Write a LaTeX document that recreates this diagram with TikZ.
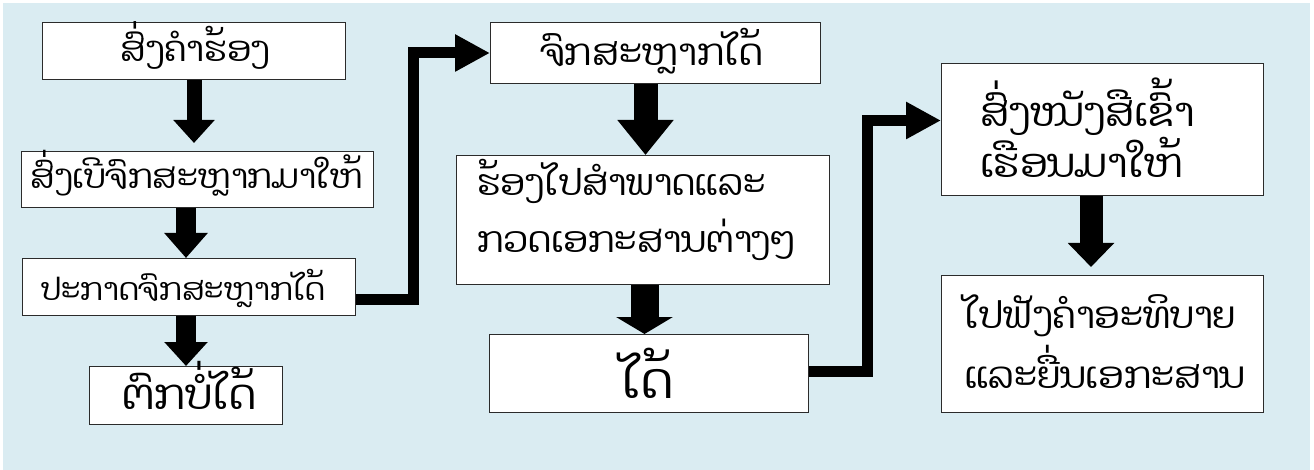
\documentclass[tikz,border=0pt]{standalone}
\usepackage{fontspec}
\usetikzlibrary{arrows.meta}
\newfontfamily\lao[Script=Lao]{Dhyana}
\definecolor{bgc}{HTML}{DAECF2}
\definecolor{edge}{HTML}{2B2B2B}
\begin{document}
\begin{tikzpicture}[x=1pt,y=-1pt,
  box/.style={draw=edge, line width=1pt, fill=white, inner sep=0pt, anchor=north west},
  txt/.style={inner sep=0pt, anchor=base},
  txtl/.style={inner sep=0pt, anchor=base west},
  blk/.style={draw=black, line join=miter},
  conn/.style={draw=black, line width=11pt, line join=miter, -{Triangle[width=35pt,length=35pt]}},
  fs/.style={font=\lao\fontsize{#1}{#1}\selectfont}
]
\useasboundingbox (0,0) rectangle (1314,470);
\fill[bgc] (3,3) rectangle (1310,470);

\node[box, minimum width=303pt, minimum height=57pt] (b1) at (42,22) {};
\node[box, minimum width=352pt, minimum height=56pt] (b2) at (21,151) {};
\node[box, minimum width=333pt, minimum height=57pt] (b3) at (22,258) {};
\node[box, minimum width=193pt, minimum height=58pt] (b4) at (89,366) {};
\node[box, minimum width=330pt, minimum height=61pt] (b5) at (490,22) {};
\node[box, minimum width=373pt, minimum height=129pt] (b6) at (456,155) {};
\node[box, minimum width=319pt, minimum height=78pt] (b7) at (489,334) {};
\node[box, minimum width=322pt, minimum height=132pt] (b8) at (941,63) {};
\node[box, minimum width=322pt, minimum height=137pt] (b9) at (941,275) {};

\node[txt, fs=35] (t1) at (195,62) {ສົ່ງຄຳຮ້ອງ};
\node[txt, fs=33.5] (t2) at (197,189) {ສົ່ງເບີຈົກສະຫຼາກມາໃຫ້};
\node[txt, fs=31] (t3) at (183.5,301) {ປະກາດຈົກສະຫຼາກໄດ້};
\node[txt, fs=42] (t4) at (189.5,409) {ຕົກບໍ່ໄດ້};
\node[txt, fs=37] (t5) at (651.5,66) {ຈົກສະຫຼາກໄດ້};
\node[txtl, fs=36] (t6a) at (477,196) {ຮ້ອງໄປສຳພາດແລະ};
\node[txtl, fs=36] (t6b) at (477,253) {ກວດເອກະສານຕ່າງໆ};
\node[txt, fs=50] (t7) at (647.5,398) {ໄດ້};
\node[txtl, fs=40] (t8a) at (980,127) {ສົ່ງໜັງສືເຂົ້າ};
\node[txtl, fs=40] (t8b) at (980,178) {ເຮືອນມາໃຫ້};
\node[txt, fs=37] (t9a) at (1100,328) {ໄປຟັງຄຳອະທິບາຍ};
\node[txt, fs=37] (t9b) at (1105,388) {ແລະຍື່ນເອກະສານ};

\draw[blk, line width=15pt, -{Triangle[width=40pt,length=23pt]}, shorten >=8pt] (b1.south) -- (b2.north -| b1.south);
\draw[blk, line width=20pt, -{Triangle[width=42pt,length=25pt]}] (b2.south -| b4.north) -- (b3.north -| b4.north);
\draw[blk, line width=20pt, -{Triangle[width=42pt,length=24pt]}] (b3.south -| b4.north) -- (b4.north);
\draw[blk, line width=24pt, -{Triangle[width=54pt,length=35pt]}] ([xshift=2.5pt]b5.south -| b6.north) -- ([xshift=2.5pt]b6.north);
\draw[blk, line width=28pt, -{Triangle[width=56pt,length=17pt]}] ([xshift=1.5pt]b6.south) -- ([xshift=1.5pt]b7.north -| b6.south);
\draw[blk, line width=23pt, -{Triangle[width=45pt,length=24pt]}, shorten >=8pt] ([xshift=-11.5pt]b8.south) -- ([xshift=-11.5pt]b9.north);

\draw[conn] ([yshift=-12.5pt]b3.east) -| ([xshift=-76.5pt]b5.west) -- (b5.west);
\draw[conn] ([yshift=2pt]b7.east) -| ([xshift=-73.5pt,yshift=9pt]b8.west) -- ([yshift=9pt]b8.west);
\end{tikzpicture}
\end{document}
